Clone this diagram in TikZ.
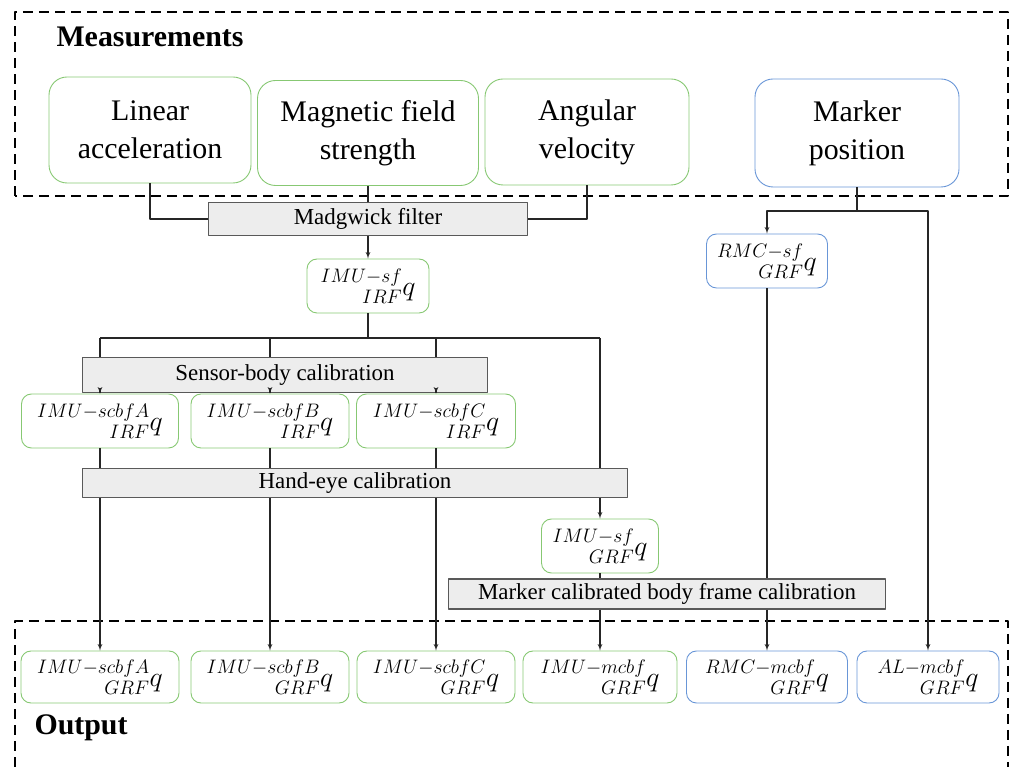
\documentclass[tikz,border=0pt]{standalone}
\usepackage{fix-cm}
\usepackage{fontspec}
\setmainfont{Liberation Serif}
\usepackage{mathtools}
\usepackage{tikz}
\usetikzlibrary{arrows}

\definecolor{boxgreen}{RGB}{135,200,115}
\definecolor{boxblue}{RGB}{105,150,215}

\begin{document}
\begin{tikzpicture}[>=latex',line join=bevel,]
\tikzstyle{meas}=[draw=boxgreen,line width=0.9bp,rounded corners=18bp,minimum height=106bp,align=center,inner sep=0pt,font=\fontsize{30}{38}\selectfont]%
\tikzstyle{qbox}=[draw=boxgreen,line width=0.9bp,rounded corners=10bp,minimum height=54bp,inner sep=0pt,font=\fontsize{28}{32}\selectfont]%
\tikzstyle{calib}=[draw=black!65,fill=black!7,line width=1.2bp,inner sep=0pt,font=\fontsize{23}{26}\selectfont]%
\tikzstyle{frame}=[draw=black,line width=2.5bp,dash pattern=on 10bp off 6bp]%
\tikzstyle{link}=[draw=black!85,line width=1.2bp]%
  \useasboundingbox (0bp,0bp) rectangle (1011bp,767bp);

  \draw [frame] (15bp,571bp) rectangle (1008bp,755bp);
  \draw [frame] (15bp,0bp) -- (15bp,146bp) -- (1008bp,146bp) -- (1008bp,0bp);
  \node (tmeas) at (53bp,730bp) [anchor=west,font=\bfseries\fontsize{30}{36}\selectfont] {Measurements};
  \node (tout) at (31bp,39bp) [anchor=west,font=\bfseries\fontsize{30}{36}\selectfont] {Output};

  \node (lin) at (150bp,637bp) [meas,minimum width=202bp] {Linear\\acceleration};
  \node (mag) at (368bp,634bp) [meas,minimum width=221bp,minimum height=105bp] {Magnetic field\\strength};
  \node (ang) at (587bp,635bp) [meas,minimum width=204bp] {Angular\\velocity};
  \node (mpos) at (857bp,634bp) [meas,draw=boxblue,minimum width=204bp,minimum height=108bp] {Marker\\position};

  \node (madg) at (368bp,548bp) [calib,minimum width=319bp,minimum height=33bp] {Madgwick filter};
  \node (irf) at (368bp,481bp) [qbox,minimum width=122bp] {$\prescript{IMU-sf}{IRF}{q}$};
  \node (rmcsf) at (767bp,506bp) [qbox,draw=boxblue,minimum width=121bp] {$\prescript{RMC-sf}{GRF}{q}$};
  \coordinate (bus) at (368bp,429bp);
  \coordinate (msplit) at (857bp,556bp);

  \node (sbcal) at (285bp,392bp) [calib,minimum width=405bp,minimum height=35bp] {Sensor-body calibration};
  \node (irfA) at (100bp,346bp) [qbox,minimum width=157bp] {$\prescript{IMU-scbfA}{IRF}{q}$};
  \node (irfB) at (270bp,346bp) [qbox,minimum width=158bp] {$\prescript{IMU-scbfB}{IRF}{q}$};
  \node (irfC) at (436bp,346bp) [qbox,minimum width=159bp] {$\prescript{IMU-scbfC}{IRF}{q}$};

  \node (hecal) at (355bp,284bp) [calib,minimum width=545bp,minimum height=29bp] {Hand-eye calibration};
  \node (grfsf) at (600bp,221bp) [qbox,minimum width=117bp] {$\prescript{IMU-sf}{GRF}{q}$};
  \node (mcal) at (667bp,173bp) [calib,minimum width=437bp,minimum height=30bp] {Marker calibrated body frame calibration};

  \node (grfA) at (100bp,90bp) [qbox,minimum width=158bp,minimum height=52bp] {$\prescript{IMU-scbfA}{GRF}{q}$};
  \node (grfB) at (270bp,90bp) [qbox,minimum width=158bp,minimum height=52bp] {$\prescript{IMU-scbfB}{GRF}{q}$};
  \node (grfC) at (436bp,90bp) [qbox,minimum width=158bp,minimum height=52bp] {$\prescript{IMU-scbfC}{GRF}{q}$};
  \node (mcbfI) at (600bp,90bp) [qbox,minimum width=154bp,minimum height=52bp] {$\prescript{IMU-mcbf}{GRF}{q}$};
  \node (mcbfR) at (767bp,90bp) [qbox,draw=boxblue,minimum width=161bp,minimum height=52bp] {$\prescript{RMC-mcbf}{GRF}{q}$};
  \node (mcbfA) at (928bp,90bp) [qbox,draw=boxblue,minimum width=142bp,minimum height=52bp] {$\prescript{AL-mcbf}{GRF}{q}$};

  \draw [link] (lin) |- (madg);
  \draw [link] (mag) -- (madg);
  \draw [link] (ang) |- (madg);
  \draw [link,->] (madg) -- (irf);

  \draw [link] (irf) -- (bus);
  \draw [link] (irfA |- bus) -- (grfsf |- bus);
  \draw [link] (irfA |- bus) -- (irfA |- sbcal.north);
  \draw [link] (irfB |- bus) -- (irfB |- sbcal.north);
  \draw [link] (irfC |- bus) -- (irfC |- sbcal.north);
  \draw [link,->] (irfA |- sbcal.south) -- (irfA);
  \draw [link,->] (irfB |- sbcal.south) -- (irfB);
  \draw [link,->] (irfC |- sbcal.south) -- (irfC);
  \draw [link] (grfsf |- bus) -- (grfsf |- hecal.north);
  \draw [link,->] (grfsf |- hecal.south) -- (grfsf);

  \draw [link] (irfA) -- (irfA |- hecal.north);
  \draw [link] (irfB) -- (irfB |- hecal.north);
  \draw [link] (irfC) -- (irfC |- hecal.north);
  \draw [link,->] (irfA |- hecal.south) -- (grfA);
  \draw [link,->] (irfB |- hecal.south) -- (grfB);
  \draw [link,->] (irfC |- hecal.south) -- (grfC);

  \draw [link] (mpos) -- (msplit);
  \draw [link,->] (msplit) -| (rmcsf);
  \draw [link,->] (msplit) -| (mcbfA);
  \draw [link] (grfsf) -- (grfsf |- mcal.north);
  \draw [link,->] (grfsf |- mcal.south) -- (mcbfI);
  \draw [link] (rmcsf) -- (rmcsf |- mcal.north);
  \draw [link,->] (rmcsf |- mcal.south) -- (mcbfR);

\end{tikzpicture}
\end{document}
